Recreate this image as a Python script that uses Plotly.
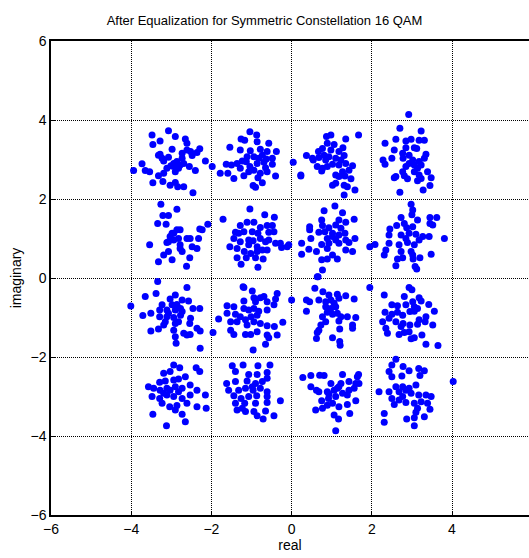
import plotly.graph_objects as go

# Received symbols after equalization, grouped by constellation point (real, imaginary)
pts_m3_p3 = [(-3.48,3.62),(-3.07,3.73),(-3.28,3.47),(-3.46,3.38),(-2.90,3.58),(-2.65,3.52),(-2.61,3.41),(-2.98,3.26),
             (-3.28,3.13),(-3.23,3.03),(-2.73,3.16),(-2.52,3.20),(-2.29,3.27),(-2.36,3.18),(-3.07,3.06),(-3.19,2.96),
             (-2.94,2.90),(-2.86,2.95),(-2.73,3.03),(-2.48,3.10),(-2.15,2.96),(-1.98,2.82),(-3.73,2.89),(-3.65,2.72),
             (-3.94,2.72),(-3.54,2.69),(-3.32,2.59),(-3.19,2.65),(-3.46,2.41),(-3.21,2.44),(-3.03,2.35),(-2.90,2.42),
             (-2.84,2.31),(-2.69,2.31),(-2.46,2.16),(-2.40,2.72),(-2.55,2.82),(-2.90,2.69),(-3.01,2.84),(-2.78,2.86),
             (-2.69,2.90),(-2.94,2.82),(-3.32,3.11),(-3.11,2.78),(-2.82,2.78),(-2.61,3.24)]
pts_m1_p3 = [(-1.04,3.70),(-1.26,3.52),(-1.17,3.49),(-0.87,3.62),(-0.86,3.45),(-1.54,3.31),(-1.28,3.24),(-1.03,3.22),
             (-0.78,3.26),(-0.57,3.41),(-0.38,3.20),(-0.61,3.20),(-1.11,3.07),(-0.94,3.07),(-0.73,3.11),(-0.63,3.01),
             (-0.48,3.03),(-1.63,2.88),(-1.50,2.86),(-1.36,2.90),(-1.23,2.96),(-1.04,2.82),(-0.86,2.90),(-0.69,2.93),
             (-0.48,2.88),(-1.78,2.65),(-1.59,2.65),(-1.44,2.52),(-1.19,2.59),(-1.07,2.69),(-0.94,2.73),(-0.78,2.65),
             (-0.61,2.69),(-0.40,2.58),(-0.96,2.34),(-0.90,2.30),(-0.73,2.41),(-1.28,2.78),(-0.84,2.54),(-0.65,2.79),
             (-1.13,2.94),(-0.82,3.03)]
pts_p1_p3 = [(0.04,2.93),(0.23,2.61),(0.23,2.58),(0.37,3.10),(0.52,3.03),(0.54,2.99),(0.67,3.20),(0.68,3.05),
             (0.77,3.28),(0.87,3.58),(0.98,3.62),(0.89,3.41),(1.06,3.38),(1.28,3.30),(1.35,3.52),(1.67,3.62),
             (0.81,3.11),(0.93,3.07),(1.10,3.03),(1.31,3.10),(0.64,2.82),(0.75,2.71),(0.89,2.82),(1.02,2.88),
             (1.18,2.86),(1.35,2.90),(1.52,2.84),(1.43,2.73),(1.27,2.69),(1.10,2.61),(1.18,2.57),(1.33,2.58),
             (1.48,2.51),(1.02,2.35),(1.10,2.40),(1.31,2.35),(1.39,2.31),(1.58,2.23),(1.31,2.10),(0.85,2.99),
             (0.98,3.24),(1.18,3.20),(0.77,2.78),(1.23,2.99)]
pts_p3_p3 = [(2.92,4.14),(2.70,3.79),(3.23,3.72),(2.60,3.51),(2.33,3.41),(2.85,3.47),(2.98,3.51),(3.18,3.49),
             (3.31,3.49),(2.56,3.24),(2.85,3.30),(3.06,3.30),(3.12,3.28),(2.77,3.16),(2.93,3.11),(3.35,3.13),
             (3.31,3.03),(2.28,2.99),(2.33,2.88),(2.50,3.03),(2.78,3.03),(3.02,2.99),(3.18,2.95),(3.23,2.86),
             (2.85,2.82),(3.06,2.86),(3.14,2.78),(2.77,2.69),(3.06,2.69),(3.39,2.69),(2.56,2.54),(2.60,2.57),
             (2.81,2.59),(2.89,2.51),(3.18,2.61),(3.23,2.52),(3.14,2.46),(3.48,2.54),(3.45,2.34),(3.28,2.23),
             (2.70,2.17),(2.93,2.90)]
pts_m3_p1 = [(-3.26,1.87),(-3.21,1.58),(-3.07,1.58),(-2.86,1.74),(-3.34,1.38),(-3.13,1.36),(-2.94,1.13),(-3.03,1.05),
             (-3.11,0.90),(-2.86,1.22),(-2.78,1.22),(-2.82,1.00),(-2.61,1.00),(-2.53,1.00),(-2.32,1.00),(-2.29,1.24),
             (-2.23,1.22),(-2.09,1.36),(-3.54,0.84),(-3.07,0.67),(-3.19,0.58),(-2.98,0.46),(-3.32,0.41),(-2.78,0.75),
             (-2.73,0.67),(-2.78,0.84),(-2.48,0.79),(-2.36,0.75),(-2.54,0.51),(-2.62,0.30),(-2.94,0.96),(-3.07,0.92),
             (-2.98,1.13)]
pts_m1_p1 = [(-1.04,1.75),(-1.71,1.49),(-0.67,1.60),(-0.43,1.54),(-1.11,1.41),(-0.94,1.41),(-1.28,1.33),(-0.78,1.28),
             (-0.61,1.33),(-0.48,1.33),(-1.40,1.16),(-1.19,1.17),(-0.98,1.17),(-0.84,1.13),(-0.57,1.16),(-0.44,1.17),
             (-1.44,1.00),(-1.28,0.92),(-1.07,0.96),(-0.96,0.94),(-0.78,1.00),(-0.65,0.92),(-0.57,0.96),(-0.40,0.88),
             (-0.28,0.88),(-0.11,0.79),(-0.25,0.77),(-1.54,0.79),(-1.36,0.75),(-1.18,0.67),(-1.02,0.62),(-0.86,0.67),
             (-0.73,0.71),(-0.61,0.71),(-1.36,0.51),(-1.13,0.51),(-0.90,0.51),(-0.71,0.48),(-1.26,0.35),(-0.84,0.27),
             (-1.07,0.84),(-1.32,1.13),(-0.86,0.79),(-0.07,0.84)]
pts_p1_p1 = [(1.08,1.82),(0.81,1.70),(1.27,1.65),(0.75,1.47),(1.18,1.47),(1.35,1.41),(1.56,1.49),(0.45,1.30),
             (0.45,1.22),(0.77,1.33),(0.93,1.27),(1.10,1.34),(1.23,1.26),(0.68,1.16),(0.83,1.17),(1.02,1.13),
             (1.18,1.09),(1.33,1.13),(0.48,1.00),(0.89,1.00),(1.10,0.96),(1.35,0.96),(1.58,1.00),(0.25,0.88),
             (0.75,0.85),(0.93,0.88),(1.18,0.88),(1.43,0.90),(1.52,0.67),(1.35,0.71),(0.43,0.73),(0.25,0.60),
             (0.89,0.75),(1.02,0.58),(1.14,0.48),(0.75,0.46),(0.89,0.48),(0.77,0.20),(0.66,0.03),(1.02,1.05),
             (0.62,0.67)]
pts_p3_p1 = [(2.98,1.87),(3.02,1.72),(3.00,1.60),(2.73,1.53),(3.45,1.53),(3.62,1.53),(2.81,1.38),(3.14,1.47),
             (3.45,1.38),(2.45,1.24),(2.62,1.33),(2.87,1.27),(3.02,1.30),(3.52,1.34),(2.43,1.09),(2.73,1.09),
             (2.93,1.13),(3.10,1.11),(3.27,1.05),(3.43,1.05),(3.81,1.00),(2.08,0.85),(1.95,0.79),(2.43,0.88),
             (2.68,0.84),(2.89,0.90),(3.06,0.84),(2.35,0.71),(2.31,0.58),(2.73,0.67),(2.98,0.67),(3.02,0.58),
             (3.48,0.60),(2.77,0.51),(2.64,0.48),(3.03,0.48),(3.20,0.51),(2.60,0.31),(3.08,0.29),(3.12,0.23),
             (2.85,1.00),(3.18,0.96)]
pts_m3_m1 = [(-3.34,-0.09),(-2.61,-0.24),(-3.38,-0.39),(-3.65,-0.47),(-3.03,-0.53),(-2.90,-0.43),(-2.73,-0.56),(-2.57,-0.58),
             (-4.01,-0.71),(-3.23,-0.68),(-2.98,-0.68),(-2.86,-0.67),(-2.46,-0.77),(-2.29,-0.77),(-3.29,-0.81),(-3.11,-0.81),
             (-2.90,-0.81),(-2.73,-0.85),(-3.71,-0.95),(-3.51,-0.89),(-3.29,-0.98),(-3.11,-0.98),(-2.94,-1.00),(-2.77,-0.94),
             (-2.52,-1.02),(-3.15,-1.11),(-2.90,-1.15),(-2.54,-1.15),(-3.19,-1.19),(-3.51,-1.34),(-3.32,-1.29),(-2.94,-1.32),
             (-2.36,-1.27),(-2.28,-1.34),(-2.69,-1.40),(-2.61,-1.44),(-2.53,-1.43),(-2.90,-1.49),(-2.88,-1.65),(-2.28,-1.78),
             (-2.77,-0.77),(-3.07,-0.89),(-2.82,-1.11)]
pts_m1_m1 = [(-1.21,-0.22),(-1.19,-0.24),(-0.98,-0.33),(-0.36,-0.39),(-0.94,-0.50),(-0.78,-0.50),(-0.69,-0.47),(-0.40,-0.53),
             (-1.19,-0.58),(-0.90,-0.60),(-0.61,-0.60),(-1.61,-0.70),(-1.44,-0.73),(-0.44,-0.68),(-1.19,-0.77),(-1.07,-0.81),
             (-0.94,-0.77),(-0.82,-0.84),(-0.61,-0.81),(-1.61,-0.89),(-1.40,-0.92),(-1.28,-0.98),(-1.01,-0.98),(-0.86,-0.94),
             (-1.82,-1.04),(-1.52,-1.11),(-1.36,-1.11),(-1.15,-1.06),(-0.94,-1.11),(-0.78,-1.15),(-0.61,-1.21),(-0.43,-1.23),
             (-0.22,-1.12),(-1.96,-1.38),(-1.52,-1.32),(-1.44,-1.43),(-1.15,-1.43),(-1.02,-1.43),(-0.86,-1.36),(-0.61,-1.44),
             (-0.57,-1.51),(-0.36,-1.44),(-0.96,-1.82),(-0.65,-1.68),(-1.11,-1.19)]
pts_p1_m1 = [(0.64,0.03),(0.00,-0.56),(0.58,-0.26),(0.78,-0.35),(0.93,-0.43),(1.14,-0.41),(1.35,-0.45),(1.56,-0.53),
             (1.95,-0.24),(0.37,-0.56),(0.45,-0.60),(0.68,-0.56),(0.85,-0.60),(0.98,-0.56),(1.18,-0.51),(0.37,-0.84),
             (0.85,-0.73),(0.98,-0.77),(1.10,-0.73),(0.89,-0.87),(1.02,-0.92),(1.14,-0.89),(1.23,-0.98),(1.39,-0.98),
             (1.60,-1.00),(0.85,-1.11),(0.73,-1.19),(1.18,-1.09),(1.52,-1.19),(1.52,-1.27),(0.68,-1.32),(0.64,-1.38),
             (1.20,-1.29),(0.62,-1.53),(1.02,-1.51),(1.20,-1.61),(1.21,-1.70),(0.93,-0.84),(1.06,-0.64),(0.77,-0.98)]
pts_p3_m1 = [(2.93,-0.24),(3.00,-0.30),(2.31,-0.43),(2.81,-0.47),(3.18,-0.50),(3.23,-0.58),(2.50,-0.68),(2.64,-0.70),
             (2.85,-0.68),(3.06,-0.73),(3.42,-0.67),(3.02,-0.60),(3.14,-0.77),(2.33,-0.87),(2.50,-0.92),(2.64,-0.87),
             (2.77,-0.94),(2.95,-0.85),(3.06,-0.84),(3.56,-0.84),(2.27,-1.11),(2.43,-1.02),(2.60,-1.11),(2.78,-1.15),
             (2.95,-1.19),(3.14,-1.17),(3.35,-0.98),(3.33,-1.11),(3.52,-1.19),(2.35,-1.27),(2.39,-1.40),(2.68,-1.43),
             (2.81,-1.38),(2.93,-1.36),(3.06,-1.51),(3.25,-1.44),(3.35,-1.68),(3.65,-1.71),(2.98,-1.54),(2.73,-1.23),
             (3.18,-1.06)]
pts_m3_m3 = [(-2.94,-2.20),(-2.79,-2.27),(-3.19,-2.41),(-3.03,-2.37),(-2.38,-2.27),(-2.29,-2.37),(-3.29,-2.64),(-3.15,-2.61),
             (-2.94,-2.58),(-2.82,-2.56),(-2.65,-2.50),(-3.57,-2.75),(-3.44,-2.79),(-3.28,-2.84),(-3.11,-2.79),(-2.90,-2.75),
             (-2.73,-2.79),(-2.53,-2.71),(-2.36,-2.84),(-3.48,-3.00),(-3.29,-3.05),(-3.11,-2.96),(-2.94,-3.00),(-2.73,-3.05),
             (-2.53,-2.96),(-2.15,-2.96),(-3.23,-3.17),(-3.04,-3.26),(-2.86,-3.23),(-2.61,-3.17),(-2.36,-3.26),(-2.13,-3.30),
             (-2.90,-3.34),(-2.73,-3.45),(-3.46,-3.45),(-2.65,-3.64),(-3.12,-3.74),(-3.03,-2.84),(-3.19,-2.92),(-2.82,-2.88)]
pts_m1_m3 = [(-1.48,-2.22),(-1.21,-2.20),(-0.84,-2.22),(-0.54,-2.20),(-1.40,-2.37),(-1.07,-2.44),(-0.86,-2.44),(-0.61,-2.39),
             (-1.62,-2.67),(-1.40,-2.62),(-1.11,-2.61),(-0.90,-2.67),(-0.73,-2.62),(-0.61,-2.54),(-1.57,-2.84),(-1.32,-2.84),
             (-1.15,-2.79),(-0.96,-2.84),(-0.78,-2.79),(-0.61,-2.88),(-1.44,-2.98),(-1.26,-3.05),(-1.07,-3.00),(-0.87,-2.98),
             (-0.61,-3.00),(-1.40,-3.17),(-1.17,-3.17),(-0.90,-3.17),(-0.61,-3.15),(-0.28,-3.11),(-1.36,-3.34),(-1.23,-3.30),
             (-0.94,-3.38),(-0.86,-3.49),(-0.65,-3.37),(-0.71,-3.57),(-0.44,-3.49),(-1.15,-3.38),(-0.98,-2.75)]
pts_p1_m3 = [(0.28,-2.52),(0.48,-2.47),(0.70,-2.46),(0.81,-2.47),(1.27,-2.44),(1.67,-2.44),(0.48,-2.75),(0.62,-2.84),
             (0.68,-2.88),(0.98,-2.67),(1.18,-2.75),(1.23,-2.67),(1.43,-2.62),(1.60,-2.67),(1.64,-2.50),(1.68,-2.67),
             (0.89,-2.88),(1.06,-2.84),(1.14,-2.79),(1.43,-2.84),(1.56,-2.79),(0.75,-3.11),(0.92,-3.05),(1.10,-3.00),
             (1.39,-2.96),(1.60,-3.11),(0.89,-3.22),(1.02,-3.17),(1.18,-3.26),(1.39,-3.20),(0.60,-3.34),(0.77,-3.30),
             (1.06,-3.47),(1.17,-3.57),(1.45,-3.43),(1.10,-3.87),(0.93,-2.94),(1.27,-2.92)]
pts_p3_m3 = [(2.60,-2.06),(2.50,-2.20),(2.78,-2.24),(3.17,-2.29),(2.43,-2.37),(2.93,-2.35),(3.31,-2.35),(2.50,-2.50),
             (2.75,-2.48),(3.20,-2.47),(2.60,-2.75),(2.77,-2.75),(2.93,-2.79),(3.10,-2.71),(2.18,-2.88),(2.43,-2.88),
             (2.68,-2.88),(2.85,-2.84),(2.98,-2.92),(3.17,-2.96),(3.35,-2.96),(3.48,-3.00),(2.50,-3.05),(2.68,-3.09),
             (2.85,-3.15),(2.56,-3.20),(3.06,-3.17),(3.23,-3.13),(3.39,-3.17),(3.45,-3.32),(3.14,-3.30),(3.10,-3.40),
             (2.31,-3.43),(2.31,-3.65),(2.87,-3.57),(3.06,-3.54),(3.31,-3.51),(3.06,-3.74),(4.03,-2.62),(2.77,-3.00)]

x_ticks = [-6, -4, -2, 0, 2, 4]
y_ticks = [-6, -4, -2, 0, 2, 4, 6]
title_text = "After Equalization for Symmetric Constellation 16 QAM"

clusters = [pts_m3_p3, pts_m1_p3, pts_p1_p3, pts_p3_p3, pts_m3_p1, pts_m1_p1, pts_p1_p1, pts_p3_p1,
            pts_m3_m1, pts_m1_m1, pts_p1_m1, pts_p3_m1, pts_m3_m3, pts_m1_m3, pts_p1_m3, pts_p3_m3]
re_vals = [p[0] for c in clusters for p in c]
im_vals = [p[1] for c in clusters for p in c]

fig = go.Figure(go.Scatter(
    x=re_vals, y=im_vals, mode="markers",
    marker=dict(color="#0000FF", size=7, line=dict(width=0)),
    showlegend=False, cliponaxis=True))

font = "Liberation Sans, Arial, sans-serif"
axis_common = dict(
    showgrid=True, gridcolor="#000000", griddash="1px,1px", gridwidth=1,
    zeroline=False, showline=True, linecolor="#000000", linewidth=1.5,
    ticks="inside", ticklen=4, tickcolor="#000000",
    tickfont=dict(family=font, size=14, color="#000000"),
)
fig.update_xaxes(range=[-6, 5.92], tickvals=x_ticks, mirror=True,
                 title=dict(text="real", font=dict(family=font, size=14, color="#000"), standoff=4),
                 **axis_common)
fig.update_yaxes(range=[-6, 6], tickvals=y_ticks, mirror=False,
                 title=dict(text="imaginary", font=dict(family=font, size=14, color="#000"), standoff=6),
                 **axis_common)
fig.update_layout(
    width=529, height=558,
    margin=dict(l=51, r=0, t=41, b=43),
    paper_bgcolor="white", plot_bgcolor="white",
    title=dict(text=title_text, x=0.5, xanchor="center", y=1 - 20/558, yanchor="middle",
               font=dict(family=font, size=13, color="#000")),
)
fig.write_html("out.html")
